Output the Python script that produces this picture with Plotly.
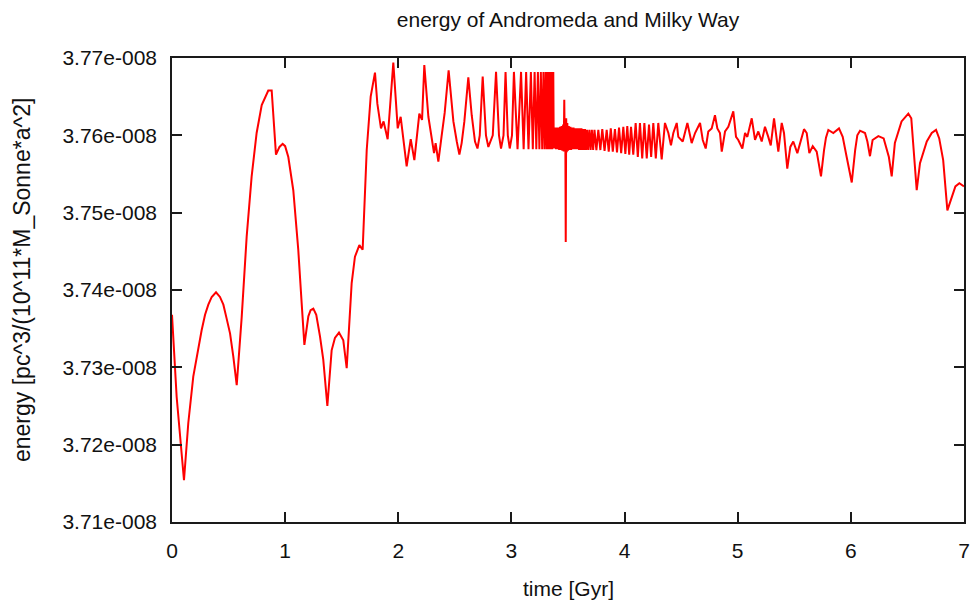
import plotly.graph_objects as go

# ---------------- data (time in Gyr, energy in units of 1e-8) ----------------
time_early = [0.000, 0.041, 0.106, 0.144, 0.188, 0.224, 0.262, 0.292, 0.321, 0.351,
              0.389, 0.424, 0.454, 0.483, 0.513, 0.542, 0.572, 0.616, 0.660, 0.704,
              0.748, 0.793, 0.837, 0.851, 0.881, 0.896, 0.919, 0.950, 0.978, 1.000,
              1.028, 1.072, 1.116, 1.146, 1.170, 1.205, 1.225, 1.249, 1.275, 1.308,
              1.337, 1.373, 1.411, 1.440, 1.476, 1.514, 1.544, 1.588, 1.617, 1.656,
              1.685, 1.721, 1.756]
energy_early = [3.7368, 3.7262, 3.7154, 3.7228, 3.7288, 3.7318, 3.7348, 3.7368, 3.7381, 3.7391,
                3.7397, 3.7391, 3.7381, 3.7363, 3.7344, 3.7314, 3.7277, 3.7365, 3.7469, 3.7547,
                3.7603, 3.7639, 3.7655, 3.7658, 3.7658, 3.7624, 3.7575, 3.7585, 3.7589, 3.7586,
                3.7572, 3.7529, 3.7452, 3.7383, 3.7329, 3.7366, 3.7374, 3.7376, 3.7368, 3.7340,
                3.7310, 3.7250, 3.7322, 3.7338, 3.7345, 3.7335, 3.7299, 3.7409, 3.7443, 3.7458,
                3.7452, 3.7581, 3.7650]

time_spikes = [1.794, 1.815, 1.847, 1.870, 1.906, 1.956, 1.995, 2.021, 2.074, 2.110,
               2.142, 2.186, 2.210, 2.230, 2.266, 2.316, 2.330, 2.354, 2.382, 2.410,
               2.445, 2.487, 2.517, 2.540, 2.560, 2.584, 2.619, 2.649, 2.678, 2.700,
               2.720, 2.746, 2.775, 2.796, 2.835, 2.864, 2.890, 2.908, 2.930, 2.948,
               2.968, 2.985, 3.005, 3.022, 3.054, 3.085, 3.108, 3.130, 3.151, 3.172,
               3.189, 3.205, 3.220, 3.234, 3.247, 3.260, 3.272, 3.283, 3.293, 3.303,
               3.312, 3.320, 3.327, 3.334, 3.340, 3.346, 3.351, 3.356, 3.360, 3.364,
               3.367, 3.370]
energy_spikes = [3.7681, 3.7641, 3.7609, 3.7618, 3.7595, 3.7694, 3.7609, 3.7624, 3.7560, 3.7595,
                 3.7568, 3.7628, 3.7620, 3.7691, 3.7624, 3.7577, 3.7590, 3.7566, 3.7598, 3.7629,
                 3.7684, 3.7618, 3.7592, 3.7575, 3.7590, 3.7618, 3.7675, 3.7626, 3.7592, 3.7583,
                 3.7600, 3.7676, 3.7600, 3.7585, 3.7600, 3.7682, 3.7600, 3.7583, 3.7600, 3.7682,
                 3.7600, 3.7583, 3.7600, 3.7682, 3.7582, 3.7682, 3.7582, 3.7682, 3.7582, 3.7682,
                 3.7582, 3.7682, 3.7582, 3.7682, 3.7582, 3.7682, 3.7582, 3.7682, 3.7582, 3.7682,
                 3.7582, 3.7682, 3.7582, 3.7682, 3.7582, 3.7682, 3.7582, 3.7682, 3.7582, 3.7682,
                 3.7583, 3.7682]

time_band = [3.373, 3.380, 3.387, 3.394, 3.401, 3.408, 3.415, 3.422, 3.429, 3.436,
             3.443, 3.450, 3.457, 3.462, 3.467, 3.471, 3.476, 3.480, 3.484, 3.489,
             3.494, 3.500, 3.507, 3.514, 3.521, 3.528, 3.535, 3.542, 3.549, 3.556,
             3.563, 3.570, 3.577, 3.584, 3.591, 3.598, 3.605, 3.612, 3.619, 3.626,
             3.633, 3.641, 3.650, 3.659, 3.668, 3.678, 3.689, 3.700, 3.711, 3.722,
             3.734, 3.751]
energy_band = [3.7611, 3.7583, 3.7610, 3.7582, 3.7610, 3.7582, 3.7610, 3.7581, 3.7611, 3.7581,
               3.7612, 3.7580, 3.7614, 3.7579, 3.7646, 3.7590, 3.7618, 3.7462, 3.7622, 3.7578,
               3.7616, 3.7580, 3.7612, 3.7581, 3.7611, 3.7581, 3.7610, 3.7582, 3.7610, 3.7582,
               3.7609, 3.7582, 3.7609, 3.7582, 3.7609, 3.7581, 3.7609, 3.7581, 3.7609, 3.7581,
               3.7608, 3.7581, 3.7608, 3.7581, 3.7607, 3.7581, 3.7607, 3.7581, 3.7607, 3.7581,
               3.7607, 3.7581]

time_late = [3.768, 3.786, 3.803, 3.823, 3.842, 3.860, 3.878, 3.896, 3.915, 3.933,
             3.951, 3.970, 3.989, 4.007, 4.024, 4.041, 4.057, 4.077, 4.098, 4.117,
             4.136, 4.156, 4.175, 4.196, 4.216, 4.235, 4.254, 4.276, 4.298, 4.328,
             4.357, 4.387, 4.410, 4.431, 4.461, 4.475, 4.514, 4.534, 4.555, 4.593,
             4.623, 4.667, 4.691, 4.717, 4.740, 4.770, 4.799, 4.820, 4.843, 4.859,
             4.888, 4.917, 4.961, 4.985, 5.005, 5.041, 5.065, 5.085, 5.124, 5.153,
             5.182, 5.212, 5.241, 5.270, 5.292, 5.321, 5.350, 5.359, 5.389, 5.409,
             5.438, 5.465, 5.491, 5.527, 5.586, 5.610, 5.633, 5.663, 5.698, 5.736,
             5.763, 5.780, 5.801, 5.845, 5.895, 5.928, 5.963, 6.008, 6.038, 6.057,
             6.081, 6.125, 6.146, 6.169, 6.192, 6.243, 6.290, 6.336, 6.361, 6.389,
             6.448, 6.508, 6.534, 6.558, 6.582, 6.611, 6.671, 6.715, 6.753, 6.781,
             6.816, 6.853, 6.906, 6.924, 6.959, 7.000]
energy_late = [3.7607, 3.7581, 3.7608, 3.7580, 3.7607, 3.7579, 3.7609, 3.7579, 3.7608, 3.7578,
               3.7610, 3.7577, 3.7611, 3.7576, 3.7612, 3.7575, 3.7611, 3.7575, 3.7616, 3.7572,
               3.7616, 3.7570, 3.7616, 3.7570, 3.7614, 3.7572, 3.7616, 3.7570, 3.7616, 3.7569,
               3.7616, 3.7603, 3.7587, 3.7603, 3.7616, 3.7598, 3.7592, 3.7603, 3.7616, 3.7590,
               3.7603, 3.7616, 3.7594, 3.7583, 3.7605, 3.7609, 3.7626, 3.7609, 3.7603, 3.7579,
               3.7605, 3.7611, 3.7631, 3.7598, 3.7594, 3.7583, 3.7603, 3.7598, 3.7622, 3.7594,
               3.7605, 3.7592, 3.7611, 3.7598, 3.7587, 3.7622, 3.7590, 3.7579, 3.7616, 3.7603,
               3.7557, 3.7585, 3.7592, 3.7577, 3.7608, 3.7603, 3.7577, 3.7586, 3.7579, 3.7547,
               3.7581, 3.7597, 3.7607, 3.7603, 3.7609, 3.7598, 3.7572, 3.7539, 3.7581, 3.7600,
               3.7606, 3.7603, 3.7592, 3.7573, 3.7594, 3.7599, 3.7596, 3.7572, 3.7547, 3.7590,
               3.7618, 3.7628, 3.7622, 3.7581, 3.7529, 3.7564, 3.7592, 3.7603, 3.7607, 3.7596,
               3.7568, 3.7503, 3.7527, 3.7534, 3.7538, 3.7534]

x_ticks = [0, 1, 2, 3, 4, 5, 6, 7]
y_ticks_e8 = [3.71, 3.72, 3.73, 3.74, 3.75, 3.76, 3.77]
y_tick_labels = ["3.71e-008", "3.72e-008", "3.73e-008", "3.74e-008",
                 "3.75e-008", "3.76e-008", "3.77e-008"]

assert len(time_early) == len(energy_early)
assert len(time_spikes) == len(energy_spikes)
assert len(time_band) == len(energy_band)
assert len(time_late) == len(energy_late)

time_all = time_early + time_spikes + time_band + time_late
energy_all = [v * 1e-8 for v in energy_early + energy_spikes + energy_band + energy_late]
y_ticks = [v * 1e-8 for v in y_ticks_e8]

FONT = "Liberation Sans, Arial, DejaVu Sans, sans-serif"
TICKFONT = "Liberation Sans Narrow, Arial Narrow, Liberation Sans, sans-serif"

W, H = 971, 604
L, T = 172, 58          # plot area left / top
PW, PH = 792, 464       # plot area size

fig = go.Figure()
fig.add_trace(go.Scatter(x=time_all, y=energy_all, mode="lines",
                         line=dict(color="#ff0000", width=2),
                         showlegend=False))

axis_common = dict(showline=True, linecolor="#1a1a1a", linewidth=1.6,
                   mirror="ticks", ticks="inside", ticklen=10, tickwidth=1.5,
                   tickcolor="#1a1a1a", showgrid=False, zeroline=False,
                   ticklabeloverflow="allow",
                   tickfont=dict(family=TICKFONT, size=21, color="#111111"))

fig.update_layout(
    width=W, height=H,
    margin=dict(l=L, r=W - L - PW, t=T, b=H - T - PH, autoexpand=False),
    paper_bgcolor="white", plot_bgcolor="white",
    title=dict(text="energy of Andromeda and Milky Way", x=0.5, xref="paper",
               xanchor="center", y=1 - 20 / H, yref="container", yanchor="middle",
               font=dict(family=FONT, size=21, color="#111111")),
    xaxis=dict(range=[0, 7], tickvals=x_ticks, ticklabelstandoff=9, **axis_common),
    yaxis=dict(range=[3.71e-8, 3.77e-8], tickvals=y_ticks, ticktext=y_tick_labels,
               ticklabelstandoff=9, **axis_common),
    annotations=[
        dict(text="time [Gyr]", xref="paper", yref="paper", x=0.5,
             y=(T + PH - 588) / PH, xanchor="center", yanchor="middle", showarrow=False,
             font=dict(family=FONT, size=21, color="#111111")),
        dict(text="energy [pc^3/(10^11*M_Sonne*a^2]", xref="paper", yref="paper",
             x=(22 - L) / PW, y=(T + PH - 280) / PH, xanchor="center", yanchor="middle",
             textangle=-90, showarrow=False,
             font=dict(family=FONT, size=23, color="#111111")),
    ],
)

# remove the default 8 px page margin so the 971x604 figure fills the window exactly
fig.write_html("out.html",
               config={"displayModeBar": False},
               post_script="document.body.style.margin='0';"
                           "document.body.style.overflow='hidden';")
